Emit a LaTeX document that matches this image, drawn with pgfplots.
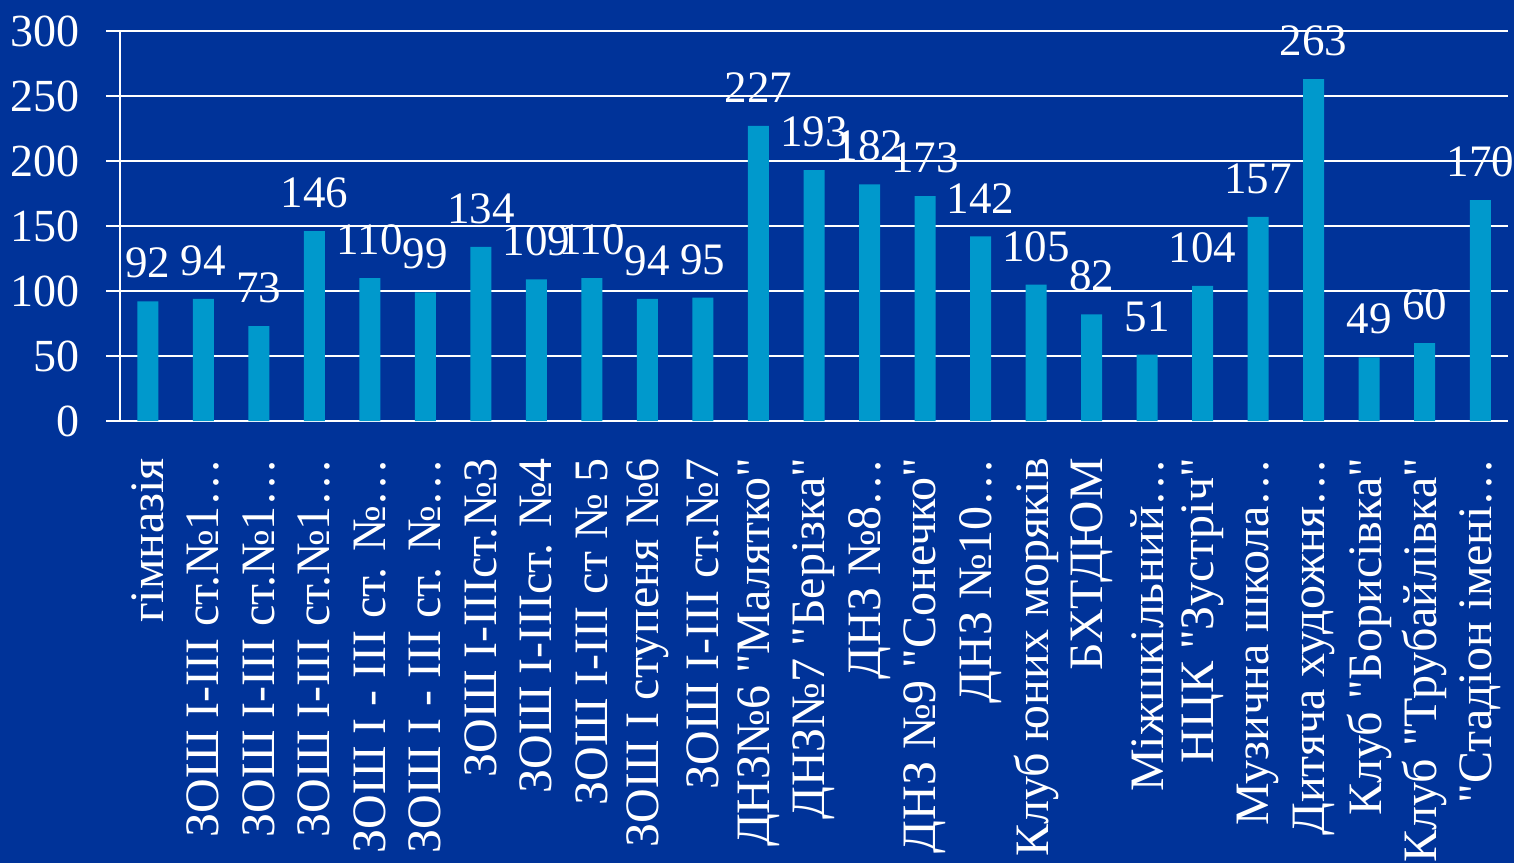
\documentclass[border=0pt]{standalone}
\usepackage{fontspec}
\setmainfont{Liberation Serif}[Ligatures=TeXOff]
\usepackage{pgfplots}
\pgfplotsset{compat=1.18}
\usetikzlibrary{backgrounds}
\definecolor{bgblue}{HTML}{003399}
\definecolor{barblue}{HTML}{0099CC}

\pgfplotstableread{
x val
0 92
1 94
2 73
3 146
4 110
5 99
6 134
7 109
8 110
9 94
10 95
11 227
12 193
13 182
14 173
15 142
16 105
17 82
18 51
19 104
20 157
21 263
22 49
23 60
24 170
}\visits

\begin{document}
\begin{tikzpicture}
\begin{axis}[
    at={(0,0)}, anchor=south west,
    scale only axis,
    width=694pt, height=195pt,
    ymin=0, ymax=300,
    xmin=-0.5, xmax=24.5,
    ytick={0,50,...,300},
    ymajorgrids=true,
    grid style={white, line width=0.7pt},
    axis lines=left,
    axis line style={-, white, line width=0.7pt},
    tick align=outside,
    major tick length=7pt,
    minor tick length=7pt,
    tick style={white, line width=0.7pt},
    xtick=data,
    x tick style={draw=none},
    minor xtick={-0.5,0.5,...,24.5},
    xticklabels={{гімназія},{ЗОШ І-ІІІ ст.№1…},{ЗОШ І-ІІІ ст.№1…},{ЗОШ І-ІІІ ст.№1…},
        {ЗОШ І - ІІІ ст. №…},{ЗОШ І - ІІІ ст. №…},{ЗОШ І-ІІІст.№3},{ЗОШ І-ІІІст. №4},
        {ЗОШ І-ІІІ ст № 5},{ЗОШ І ступеня №6},{ЗОШ І-ІІІ ст.№7},{ДНЗ№6 "Малятко"},
        {ДНЗ№7 "Берізка"},{ДНЗ №8…},{ДНЗ №9 "Сонечко"},{ДНЗ №10…},
        {Клуб юних моряків},{БХТДЮМ},{Міжшкільний…},{НЦК "Зустріч"},
        {Музична школа…},{Дитяча художня…},{Клуб "Борисівка"},{Клуб "Трубайлівка"},
        {"Стадіон імені…}},
    xticklabel style={rotate=90, anchor=east, font=\fontsize{24}{24}\selectfont, text=white, xshift=-8pt},
    yticklabel style={font=\fontsize{23}{23}\selectfont, text=white, xshift=-9.5pt},
    /pgf/number format/assume math mode=true,
    ybar,
    bar width=10.5pt,
    nodes near coords,
    nodes near coords style={font=\fontsize{22.5}{22.5}\selectfont, text=white, yshift=8pt},
]
\addplot[fill=barblue, draw=none] table[x=x, y=val] {\visits};
\end{axis}
\begin{scope}[on background layer]
\fill[bgblue] (-60pt,-221pt) rectangle (697pt,210.5pt);
\end{scope}
\pgfresetboundingbox
\useasboundingbox (-60pt,-221pt) rectangle (697pt,210.5pt);
\end{tikzpicture}
\end{document}
